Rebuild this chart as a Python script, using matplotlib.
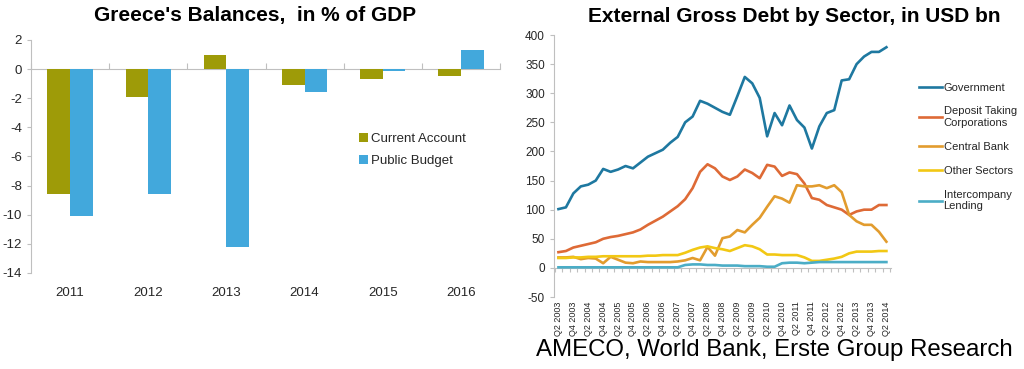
import numpy as np
import matplotlib
matplotlib.use("Agg")
from matplotlib import pyplot as plt

plt.rcParams['font.family'] = ['Liberation Sans', 'DejaVu Sans']
plt.rcParams['axes.unicode_minus'] = False

# left chart: balances in % of GDP
years = ['2011', '2012', '2013', '2014', '2015', '2016']
current_account = [-8.6, -1.9, 1.0, -1.1, -0.7, -0.5]
public_budget = [-10.1, -8.6, -12.2, -1.6, -0.1, 1.3]

# right chart: external gross debt, Q2 2003 .. Q2 2014
quarters = ['Q%d %d' % (q, y) for y in range(2003, 2015) for q in (1, 2, 3, 4)][1:46]
government = [101, 104, 128, 140, 143, 150, 170, 165, 169, 175, 171, 181, 191, 197, 203,
              215, 225, 250, 260, 287, 282, 275, 268, 263, 295, 328, 317, 292, 226, 266,
              245, 279, 254, 241, 205, 243, 266, 271, 322, 324, 350, 363, 371, 371, 379]
deposit_taking = [27, 29, 35, 38, 41, 44, 50, 53, 55, 58, 61, 66, 74, 81, 88,
                  97, 106, 118, 137, 165, 178, 171, 157, 151, 157, 169, 163, 154, 177, 174,
                  158, 164, 161, 145, 120, 117, 108, 104, 100, 91, 97, 100, 100, 108, 108]
central_bank = [18, 18, 19, 15, 17, 16, 8, 19, 14, 9, 8, 11, 10, 10, 10,
                10, 11, 13, 17, 13, 36, 21, 51, 54, 65, 61, 74, 86, 105, 123,
                119, 112, 142, 140, 140, 142, 137, 142, 130, 91, 80, 74, 74, 62, 45]
other_sectors = [17, 17, 18, 18, 19, 19, 20, 20, 20, 20, 20, 20, 21, 21, 22,
                 22, 22, 26, 31, 35, 37, 34, 32, 29, 34, 39, 37, 32, 23, 23,
                 22, 22, 22, 18, 12, 12, 14, 16, 19, 25, 28, 28, 28, 29, 29]
intercompany = [1, 1, 1, 1, 1, 1, 1, 1, 1, 1, 1, 1, 1, 1, 1,
                1, 1, 5, 6, 6, 5, 5, 4, 4, 4, 3, 3, 3, 2, 2,
                8, 9, 9, 8, 9, 10, 10, 10, 10, 10, 10, 10, 10, 10, 10]

series = [('Government', government, '#1E78A0'),
          ('Deposit Taking\nCorporations', deposit_taking, '#DE6A36'),
          ('Central Bank', central_bank, '#E29C2E'),
          ('Other Sectors', other_sectors, '#F2C814'),
          ('Intercompany\nLending', intercompany, '#4BADC6')]

grey = '#BFBFBF'
txt = '#262626'


def zero_axis(ax, loc, ticks, ticklen):
    # the category axis crosses at 0 while its labels stay at the bottom
    z = ax.secondary_xaxis(loc)
    z.set_xticks(ticks)
    z.set_xticklabels([])
    z.tick_params(length=ticklen, color=grey, width=0.8)
    for sp in z.spines.values():
        sp.set_color(grey)
        sp.set_linewidth(0.8)
    return z


fig = plt.figure(figsize=(10.24, 3.69), dpi=100)

# ---- left: bars
ax1 = fig.add_axes([0.0303, 0.2602, 0.458, 0.6314])
x = np.arange(len(years))
w = 0.29
ax1.bar(x - w/2, current_account, w, color='#9E9B08', label='Current Account')
ax1.bar(x + w/2, public_budget, w, color='#42A8DC', label='Public Budget')
ax1.set_xlim(-0.5, 5.5)
ax1.set_ylim(-14, 2)
ax1.set_yticks(np.arange(-14, 3, 2))
ax1.set_xticks(x)
ax1.set_xticklabels(years)
ax1.tick_params(axis='x', length=0, pad=10, labelsize=9.5, colors=txt)
ax1.tick_params(axis='y', length=3, labelsize=9.5, colors=txt)
ax1.tick_params(axis='y', color=grey)
for s in ('top', 'right', 'bottom'):
    ax1.spines[s].set_visible(False)
ax1.spines['left'].set_color(grey)
zero_axis(ax1, 14 / 16.0, np.arange(-0.5, 6, 1), 4)
ax1.legend(loc='upper left', bbox_to_anchor=(0.685, 0.63), frameon=False,
           fontsize=9.5, handlelength=0.7, handleheight=0.7, handletextpad=0.2,
           labelspacing=0.75, borderpad=0, labelcolor=txt)

fig.text(255/1024, 1 - 16/369, "Greece's Balances,  in % of GDP", ha='center', va='center',
         fontsize=15, fontweight='bold', color='black')

# ---- right: lines
ax2 = fig.add_axes([0.541, 0.1951, 0.329, 0.71])
t = np.arange(len(quarters))
for name, vals, col in series:
    ax2.plot(t, vals, color=col, lw=1.9, label=name)
ax2.set_xlim(-0.6, 44.6)
ax2.set_ylim(-50, 400)
ax2.set_yticks(np.arange(-50, 401, 50))
ax2.set_xticks(t[::2])
ax2.set_xticklabels(quarters[::2], rotation=90)
ax2.tick_params(axis='x', length=0, pad=3, labelsize=6.5, colors=txt)
ax2.tick_params(axis='y', length=3, labelsize=8.5, colors=txt)
ax2.tick_params(axis='y', color=grey)
for s in ('top', 'right', 'bottom'):
    ax2.spines[s].set_visible(False)
ax2.spines['left'].set_color(grey)
zero_axis(ax2, 50 / 450.0, np.arange(-0.5, 45, 1), 3)
ax2.legend(loc='upper left', bbox_to_anchor=(913/1024, 1 - 77/369),
           bbox_transform=fig.transFigure, frameon=False, fontsize=8,
           handlelength=2.1, handletextpad=0.15, labelspacing=1.25, borderpad=0,
           labelcolor=txt)

fig.text(794/1024, 1 - 16/369, 'External Gross Debt by Sector, in USD bn', ha='center',
         va='center', fontsize=15, fontweight='bold', color='black')
fig.text(1013/1024, 1 - 350/369, 'AMECO, World Bank, Erste Group Research', ha='right',
         va='center', fontsize=17.3, color='black')

fig.savefig('out.png', dpi=100)
